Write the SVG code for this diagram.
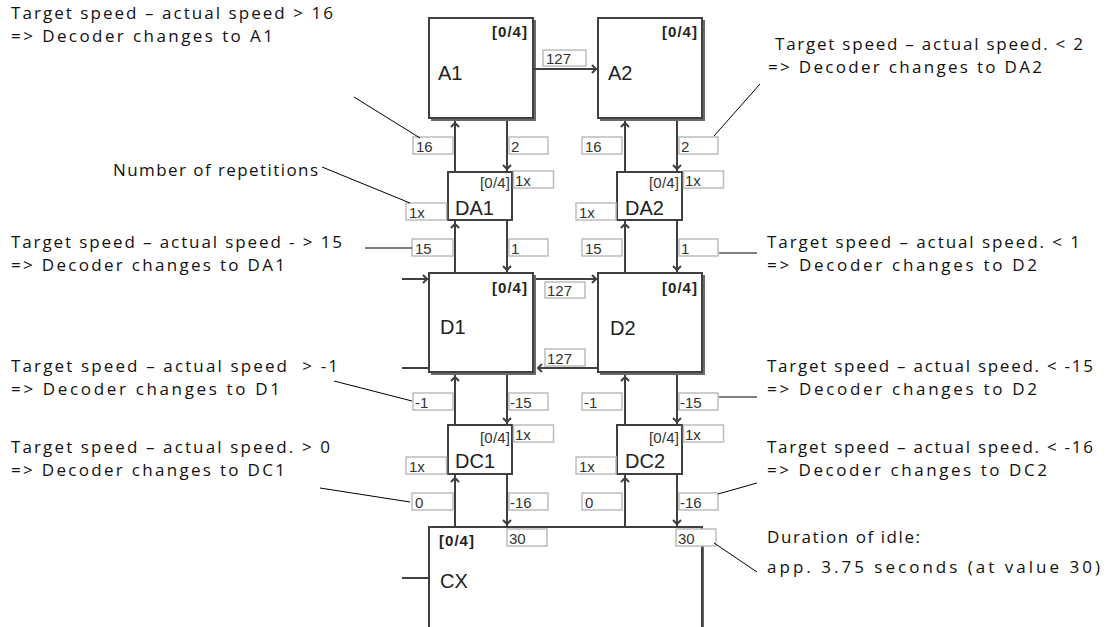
<svg xmlns="http://www.w3.org/2000/svg" xmlns:xlink="http://www.w3.org/1999/xlink" width="1113" height="627" viewBox="0 0 1113 627">
<style>
.box{fill:#fff;stroke:#404040;stroke-width:2}
.shd{fill:#6a6a6a}
.lbl{font-family:"Liberation Sans",Arial,sans-serif;font-size:20px;fill:#222}
.tagb{font-family:"Liberation Sans",Arial,sans-serif;font-size:15px;font-weight:bold;fill:#222}
.tagn{font-family:"Liberation Sans",Arial,sans-serif;font-size:15px;fill:#333}
.val rect{fill:#fff;stroke:#bdbdbd;stroke-width:1.5}
.val text{font-family:"Liberation Sans",Arial,sans-serif;font-size:15px;fill:#333}
.conn line{stroke:#404040;stroke-width:2}
.conn use{fill:none;stroke:#404040;stroke-width:2}
.ann line{stroke:#000;stroke-width:1}
.note{font-family:"Open Sans","Liberation Sans",sans-serif;font-size:17px;fill:#111;white-space:pre}
</style>
<defs>
<path id="cU" d="M-4,4 L0,0 L4,4"/>
<path id="cD" d="M-4,-4 L0,0 L4,-4"/>
<path id="cR" d="M-4,-4 L0,0 L-4,4"/>
<path id="cL" d="M4,-4 L0,0 L4,4"/>
</defs>
<rect width="1113" height="627" fill="#fff"/>

<g id="A1"><rect class="shd" x="431" y="20" width="105" height="101"/><rect class="box" x="429" y="18" width="104" height="100"/><text class="tagb" x="492" y="37" textLength="35">[0/4]</text><text class="lbl" x="438" y="80">A1</text></g>
<g id="A2"><rect class="shd" x="600" y="20" width="105" height="101"/><rect class="box" x="598" y="18" width="104" height="100"/><text class="tagb" x="662" y="37" textLength="35">[0/4]</text><text class="lbl" x="608" y="80">A2</text></g>
<g id="DA1"><rect class="box" x="448" y="172" width="64" height="48"/><text class="tagn" x="480" y="188" textLength="30">[0/4]</text><text class="lbl" x="455" y="215" font-size="18">DA1</text></g>
<g id="DA2"><rect class="box" x="617" y="172" width="65" height="48"/><text class="tagn" x="649" y="188" textLength="30">[0/4]</text><text class="lbl" x="625" y="215" font-size="18">DA2</text></g>
<g id="D1"><rect class="shd" x="431" y="275" width="105" height="100"/><rect class="box" x="429" y="273" width="104" height="99"/><text class="tagb" x="492" y="293" textLength="35">[0/4]</text><text class="lbl" x="440" y="334">D1</text></g>
<g id="D2"><rect class="shd" x="600" y="275" width="105" height="100"/><rect class="box" x="598" y="273" width="104" height="99"/><text class="tagb" x="662" y="293" textLength="35">[0/4]</text><text class="lbl" x="610" y="335">D2</text></g>
<g id="DC1"><rect class="box" x="448" y="425" width="64" height="49"/><text class="tagn" x="480" y="443" textLength="30">[0/4]</text><text class="lbl" x="455" y="468" font-size="18">DC1</text></g>
<g id="DC2"><rect class="box" x="617" y="425" width="65" height="49"/><text class="tagn" x="649" y="443" textLength="30">[0/4]</text><text class="lbl" x="625" y="468" font-size="18">DC2</text></g>
<g id="CX"><rect class="shd" x="431" y="529" width="273" height="120"/><rect class="box" x="429" y="527" width="273" height="120"/><text class="tagb" x="439" y="546" textLength="35">[0/4]</text><text class="lbl" x="440" y="588">CX</text></g>

<g id="connectors" class="conn">
<line x1="534" y1="69" x2="597" y2="69"/><use href="#cR" x="596" y="69"/>
<line x1="402" y1="279" x2="428" y2="279"/><use href="#cR" x="427" y="279"/>
<line x1="536" y1="279" x2="597" y2="279"/><use href="#cR" x="596" y="279"/>
<line x1="598" y1="368" x2="538" y2="368"/><use href="#cL" x="538" y="368"/>
<line x1="402" y1="368" x2="429" y2="368"/>
<line x1="402" y1="578" x2="429" y2="578"/>
<line x1="455" y1="121" x2="455" y2="172"/><use href="#cU" x="455" y="123"/>
<line x1="455" y1="221" x2="455" y2="273"/><use href="#cU" x="455" y="224"/>
<line x1="455" y1="375" x2="455" y2="425"/><use href="#cU" x="455" y="377"/>
<line x1="455" y1="475" x2="455" y2="527"/><use href="#cU" x="455" y="478"/>
<line x1="507" y1="121" x2="507" y2="172"/><use href="#cD" x="507" y="169"/>
<line x1="507" y1="221" x2="507" y2="273"/><use href="#cD" x="507" y="270"/>
<line x1="507" y1="375" x2="507" y2="425"/><use href="#cD" x="507" y="422"/>
<line x1="507" y1="475" x2="507" y2="527"/><use href="#cD" x="507" y="524"/>
<line x1="625" y1="121" x2="625" y2="172"/><use href="#cU" x="625" y="123"/>
<line x1="625" y1="221" x2="625" y2="273"/><use href="#cU" x="625" y="224"/>
<line x1="625" y1="375" x2="625" y2="425"/><use href="#cU" x="625" y="377"/>
<line x1="625" y1="475" x2="625" y2="527"/><use href="#cU" x="625" y="478"/>
<line x1="677" y1="121" x2="677" y2="172"/><use href="#cD" x="677" y="169"/>
<line x1="677" y1="221" x2="677" y2="273"/><use href="#cD" x="677" y="270"/>
<line x1="677" y1="375" x2="677" y2="425"/><use href="#cD" x="677" y="422"/>
<line x1="677" y1="475" x2="677" y2="527"/><use href="#cD" x="677" y="524"/>
</g>

<g id="values" class="val">
<rect x="543" y="50" width="43" height="16"/><text x="546" y="64">127</text>
<rect x="413" y="137" width="40" height="17"/><text x="416" y="152">16</text>
<rect x="509" y="137" width="39" height="17"/><text x="511" y="152">2</text>
<rect x="582" y="137" width="40" height="17"/><text x="585" y="152">16</text>
<rect x="679" y="137" width="39" height="17"/><text x="681" y="152">2</text>
<rect x="513.5" y="171" width="40" height="17"/><text x="515" y="186">1x</text>
<rect x="406" y="203" width="40.5" height="17"/><text x="409" y="218">1x</text>
<rect x="683.5" y="171" width="40" height="17"/><text x="685" y="186">1x</text>
<rect x="576" y="203" width="40" height="17"/><text x="579" y="218">1x</text>
<rect x="412" y="239" width="41" height="17"/><text x="415" y="254">15</text>
<rect x="509" y="239" width="39" height="17"/><text x="511" y="254">1</text>
<rect x="582" y="239" width="40" height="17"/><text x="585" y="254">15</text>
<rect x="679" y="239" width="39" height="17"/><text x="681" y="254">1</text>
<rect x="545" y="282" width="40" height="16"/><text x="547" y="296">127</text>
<rect x="545" y="349" width="40" height="17"/><text x="547" y="364">127</text>
<rect x="413" y="393" width="40" height="17"/><text x="415" y="408">-1</text>
<rect x="509" y="393" width="39" height="17"/><text x="510" y="408">-15</text>
<rect x="582" y="393" width="40" height="17"/><text x="584" y="408">-1</text>
<rect x="679" y="393" width="39" height="17"/><text x="680" y="408">-15</text>
<rect x="513.5" y="425" width="40" height="17"/><text x="515" y="440">1x</text>
<rect x="406" y="457" width="40.5" height="17"/><text x="409" y="472">1x</text>
<rect x="683.5" y="425" width="40" height="17"/><text x="685" y="440">1x</text>
<rect x="576" y="457" width="40" height="17"/><text x="579" y="472">1x</text>
<rect x="412" y="493" width="41" height="17"/><text x="415" y="508">0</text>
<rect x="509" y="493" width="39" height="17"/><text x="510" y="508">-16</text>
<rect x="582" y="493" width="40" height="17"/><text x="585" y="508">0</text>
<rect x="679" y="493" width="39" height="17"/><text x="680" y="508">-16</text>
<rect x="507" y="529" width="40" height="17"/><text x="509" y="544">30</text>
<rect x="676" y="529" width="40" height="17"/><text x="678" y="544">30</text>
</g>

<g id="annotations" class="ann">
<line x1="354" y1="97" x2="420" y2="138"/>
<line x1="322" y1="167" x2="410" y2="203"/>
<line x1="365" y1="248" x2="412" y2="248"/>
<line x1="334" y1="381" x2="412" y2="401"/>
<line x1="320" y1="488" x2="410" y2="502"/>
<line x1="760" y1="84" x2="714" y2="136"/>
<line x1="719" y1="253" x2="757" y2="253"/>
<line x1="719" y1="397" x2="757" y2="397"/>
<line x1="718" y1="494" x2="757" y2="483"/>
<line x1="714" y1="543" x2="757" y2="572"/>
</g>

<g id="notes" class="note">
<text x="11" y="19" textLength="322" lengthAdjust="spacing">Target speed – actual speed &gt; 16</text>
<text x="11" y="42" textLength="262" lengthAdjust="spacing">=&gt; Decoder changes to A1</text>
<text x="113" y="176" textLength="205" lengthAdjust="spacing">Number of repetitions</text>
<text x="11" y="248" textLength="331" lengthAdjust="spacing">Target speed – actual speed - &gt; 15</text>
<text x="11" y="271" textLength="274" lengthAdjust="spacing">=&gt; Decoder changes to DA1</text>
<text x="11" y="372" textLength="327" lengthAdjust="spacing" xml:space="preserve">Target speed – actual speed  &gt; -1</text>
<text x="11" y="395" textLength="269" lengthAdjust="spacing">=&gt; Decoder changes to D1</text>
<text x="11" y="453" textLength="319" lengthAdjust="spacing">Target speed – actual speed. &gt; 0</text>
<text x="11" y="476" textLength="274" lengthAdjust="spacing">=&gt; Decoder changes to DC1</text>
<text x="775" y="50" textLength="308" lengthAdjust="spacing">Target speed – actual speed. &lt; 2</text>
<text x="768" y="73" textLength="274" lengthAdjust="spacing">=&gt; Decoder changes to DA2</text>
<text x="767" y="248" textLength="313" lengthAdjust="spacing">Target speed – actual speed. &lt; 1</text>
<text x="767" y="271" textLength="270" lengthAdjust="spacing">=&gt; Decoder changes to D2</text>
<text x="767" y="372" textLength="326" lengthAdjust="spacing">Target speed – actual speed. &lt; -15</text>
<text x="767" y="395" textLength="270" lengthAdjust="spacing">=&gt; Decoder changes to D2</text>
<text x="767" y="453" textLength="326" lengthAdjust="spacing">Target speed – actual speed. &lt; -16</text>
<text x="767" y="476" textLength="280" lengthAdjust="spacing">=&gt; Decoder changes to DC2</text>
<text x="767" y="543" textLength="153" lengthAdjust="spacing">Duration of idle:</text>
<text x="767" y="573" textLength="333" lengthAdjust="spacing">app. 3.75 seconds (at value 30)</text>
</g>
</svg>
